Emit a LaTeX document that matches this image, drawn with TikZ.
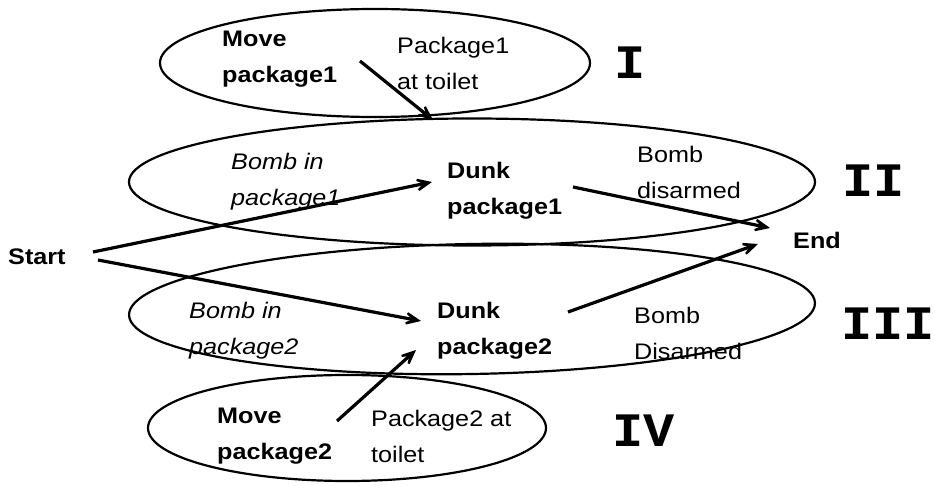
\documentclass[tikz,border=0pt]{standalone}
\usepackage{fontspec}
\setmainfont{Liberation Sans}[FakeStretch=1.12]
\newfontfamily\numfont{Liberation Mono}[FakeStretch=1.08]
\usetikzlibrary{arrows.meta,shapes.geometric}

\begin{document}
\begin{tikzpicture}[x=1pt,y=-1pt,
  txt/.style={anchor=west, align=left, inner sep=0pt, font=\fontsize{22.5}{36}\selectfont},
  act/.style={txt, font=\fontsize{22.5}{36}\selectfont\bfseries},
  cond/.style={txt, font=\fontsize{22.5}{36}\selectfont\itshape},
  level/.style={anchor=west, inner sep=0pt, font=\numfont\fontsize{48}{48}\selectfont\bfseries},
  region/.style={draw, ellipse, line width=2.2pt, inner sep=0pt},
  flow/.style={line width=3.2pt, -{Stealth[length=25pt,width=22pt,inset=16pt]}}
]
\useasboundingbox (0,0) rectangle (935,486);
\fill[white] (0,0) rectangle (935,486);

% the four planning levels
\node[region, minimum width=430pt, minimum height=108pt] (lvI)   at (375,63)  {};
\node[region, minimum width=686pt, minimum height=127pt] (lvII)  at (472,182) {};
\node[region, minimum width=686pt, minimum height=130pt, rotate=1] (lvIII) at (472,309) {};
\node[region, minimum width=398pt, minimum height=106pt] (lvIV)  at (347,428) {};

% level numerals
\node[level] (nI)   at (614,63)  {I};
\node[level] (nII)  at (842,181) {II};
\node[level] (nIII) at (841,324) {III};
\node[level] (nIV)  at (612,431) {IV};

% actions, conditions and end points
\node[act]  (move1)   at (222,59)  {Move\\package1};
\node[txt]  (toilet1) at (397,63)  {Package1\\at toilet};
\node[cond] (bomb1)   at (231,182) {Bomb in\\package1};
\node[act]  (dunk1)   at (447,191) {Dunk\\package1};
\node[txt]  (dis1)    at (637,172) {Bomb\\disarmed};
\node[act]  (start)   at (8,257)   {Start};
\node[act]  (end)     at (793,240) {End};
\node[cond] (bomb2)   at (189,331) {Bomb in\\package2};
\node[act]  (dunk2)   at (437,331) {Dunk\\package2};
\node[txt]  (dis2)    at (634,333) {Bomb\\Disarmed};
\node[act]  (move2)   at (217,436) {Move\\package2};
\node[txt]  (toilet2) at (371,436) {Package2 at\\toilet};

% connector end points
\coordinate (m1o) at (360,61);
\coordinate (d1i) at (433,120);
\coordinate (s1)  at (93,252);
\coordinate (d1s) at (432,182);
\coordinate (s2)  at (98,260);
\coordinate (d2s) at (421,321);
\coordinate (d1o) at (573,187);
\coordinate (e1)  at (770,228);
\coordinate (d2o) at (568,312);
\coordinate (e2)  at (758,244);
\coordinate (m2o) at (337,421);
\coordinate (d2i) at (416,350);

\draw[flow] (m1o) -- (d1i);
\draw[flow] (s1)  -- (d1s);
\draw[flow] (s2)  -- (d2s);
\draw[flow] (d1o) -- (e1);
\draw[flow] (d2o) -- (e2);
\draw[flow] (m2o) -- (d2i);
\end{tikzpicture}
\end{document}
